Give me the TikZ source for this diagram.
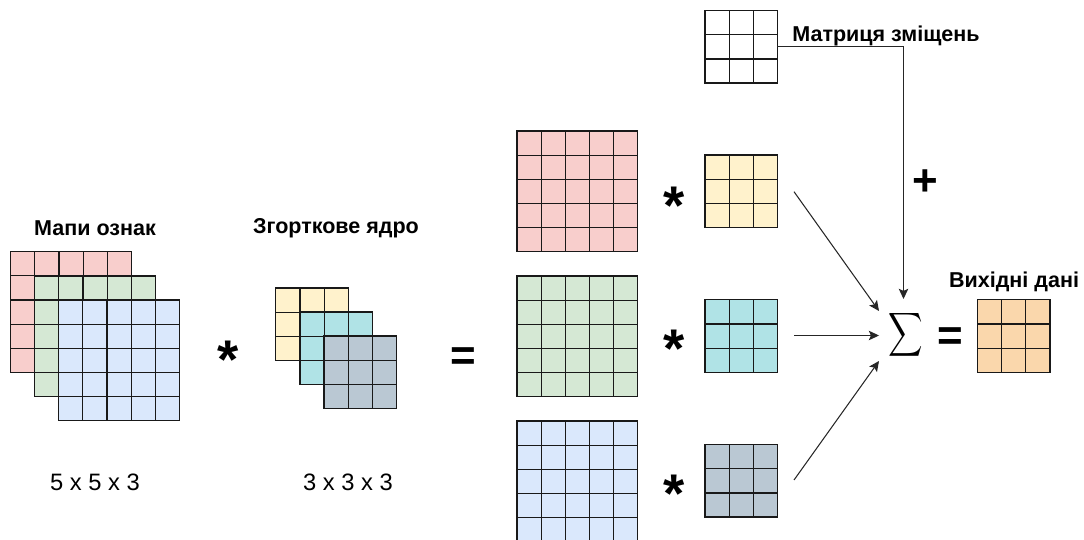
\documentclass[tikz,border=0pt]{standalone}
\usepackage{fontspec}
\setmainfont{Liberation Sans}
\usetikzlibrary{arrows.meta,calc}
\definecolor{redfill}{HTML}{F8CECC}
\definecolor{greenfill}{HTML}{D5E8D4}
\definecolor{bluefill}{HTML}{DAE8FC}
\definecolor{yellowfill}{HTML}{FFF2CC}
\definecolor{tealfill}{HTML}{B0E3E6}
\definecolor{grayfill}{HTML}{BAC8D3}
\definecolor{orangefill}{HTML}{FAD7AC}
\tikzset{
    cellbox/.style={draw=black!90, line width=0.7pt, inner sep=0pt, outer sep=0pt, anchor=north west},
    bigmap/.style={cellbox, minimum size=2.416cm},
    smallker/.style={cellbox, minimum size=1.45cm},
    cellline/.style={draw=black!90, line width=0.7pt},
    heading/.style={font=\bfseries\fontsize{12.25}{14}\selectfont},
    dims/.style={font=\fontsize{13.5}{16}\selectfont},
    opsign/.style={font=\bfseries\fontsize{25}{30}\selectfont},
    starsign/.style={font=\bfseries\fontsize{31}{36}\selectfont},
    flow/.style={-{Stealth[length=5.8pt,width=5.4pt,inset=1.2pt]}, line width=0.6pt, black!85}
}
\begin{document}
\begin{tikzpicture}[x=0.02cm, y=-0.02cm]
    \useasboundingbox (0, 0) rectangle (1084, 540);

    % Великі матриці 5 x 5
    \begin{scope}
        \clip (0, 0) rectangle (1084, 540);
        \foreach \n/\x/\y/\c in {redmap/10.7/251.7/redfill, greenmap/34.7/275.9/greenfill, bluemap/58.7/300/bluefill,
                redbig/517/131/redfill, greenbig/517/276/greenfill, bluebig/517/421/bluefill} {
            \node[bigmap, fill=\c] (\n) at (\x, \y) {};
            \foreach \i in {1, ..., 4} {
                \draw[cellline] ($(\n.north west)!\i/5!(\n.north east)$) -- ($(\n.south west)!\i/5!(\n.south east)$);
                \draw[cellline] ($(\n.north west)!\i/5!(\n.south west)$) -- ($(\n.north east)!\i/5!(\n.south east)$);
            }
        }
    \end{scope}

    % Малі матриці 3 x 3
    \foreach \n/\x/\y/\c in {yellowcore/275.8/288/yellowfill, tealcore/300/312/tealfill, graycore/324/336/grayfill,
            shiftker/705/10.6/white, yellowker/705/155/yellowfill, tealker/705/299.8/tealfill, grayker/705/444.6/grayfill,
            outker/977.4/299.8/orangefill} {
        \node[smallker, fill=\c] (\n) at (\x, \y) {};
        \foreach \i in {1, 2} {
            \draw[cellline] ($(\n.north west)!\i/3!(\n.north east)$) -- ($(\n.south west)!\i/3!(\n.south east)$);
            \draw[cellline] ($(\n.north west)!\i/3!(\n.south west)$) -- ($(\n.north east)!\i/3!(\n.south east)$);
        }
    }

    % Підписи
    \node[heading] (maplabel) at (95, 228) {Мапи ознак};
    \node[heading] (corelabel) at (336, 228) {Згорткове ядро};
    \node[heading] (shiftlabel) at (886, 36) {Матриця зміщень};
    \node[heading] (outlabel) at (1014, 281.5) {Вихідні дані};
    \node[dims] (mapdims) at (95, 482) {5 x 5 x 3};
    \node[dims] (coredims) at (348, 482) {3 x 3 x 3};

    % Знаки операцій
    \node[starsign] (star1) at (228, 360) {*};
    \node[starsign] (star2) at (674.5, 206) {*};
    \node[starsign] (star3) at (674.5, 349) {*};
    \node[starsign] (star4) at (674.5, 494) {*};
    \node[opsign] (eq1) at (463, 359) {=};
    \node[opsign] (eq2) at (950, 339.5) {=};
    \node[opsign] (plus) at (925, 183) {+};
    \node[xscale=1.36, yscale=1.74] (sigma) at (905.7, 335) {$\displaystyle\sum$};

    % Зв'язки
    \coordinate (yellowout) at (794, 191.7);
    \coordinate (tealout) at (794, 335.5);
    \coordinate (grayout) at (794, 480);
    \coordinate (sumtop) at (903.5, 299);
    \coordinate (sumupper) at (879, 311);
    \coordinate (summid) at (879, 335.5);
    \coordinate (sumlower) at (879, 361);
    \draw[flow] (shiftker.east) -| (sumtop);
    \draw[flow] (yellowout) -- (sumupper);
    \draw[flow] (tealout) -- (summid);
    \draw[flow] (grayout) -- (sumlower);
\end{tikzpicture}
\end{document}
